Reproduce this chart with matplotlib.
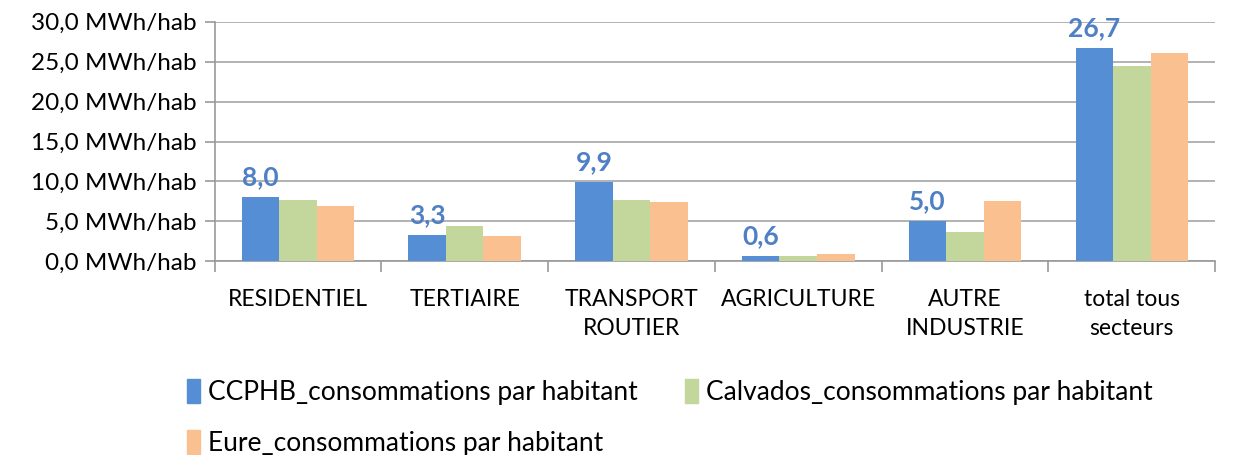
import matplotlib.pyplot as plt
import numpy as np
from matplotlib.patches import Patch

# data
categories = ["RESIDENTIEL", "TERTIAIRE", "TRANSPORT\nROUTIER", "AGRICULTURE",
              "AUTRE\nINDUSTRIE", "total tous\nsecteurs"]
ccphb = [8.0, 3.3, 9.9, 0.6, 5.0, 26.7]
calvados = [7.7, 4.4, 7.7, 0.7, 3.6, 24.5]
eure = [6.9, 3.1, 7.4, 0.85, 7.5, 26.1]
series_names = ["CCPHB_consommations par habitant",
                "Calvados_consommations par habitant",
                "Eure_consommations par habitant"]
colors = ["#558ED5", "#C3D69B", "#FAC090"]

plt.rcParams["font.family"] = ["Lato", "DejaVu Sans"]

fig = plt.figure(figsize=(12.4, 4.55), dpi=100)
ax = fig.add_axes([0.173, 0.426, 0.807, 0.526])

x = np.arange(len(categories))
w = 0.225
for i, (vals, col) in enumerate(zip([ccphb, calvados, eure], colors)):
    ax.bar(x + (i - 1) * w, vals, width=w, color=col, zorder=3)

# labels on the first series
for xi, v in zip(x, ccphb):
    ax.text(xi - w, v + 1.0, f"{v:.1f}".replace(".", ","), ha="center", va="bottom",
            color="#4F7FC4", fontsize=19, fontweight="bold")

ax.set_ylim(0, 30)
ax.set_xlim(-0.5, len(categories) - 0.5)
yt = np.arange(0, 31, 5)
ax.set_yticks(yt)
ax.set_yticklabels([f"{v:.1f} MWh/hab".replace(".", ",") for v in yt], fontsize=17.5)
ax.yaxis.grid(True, color="#A6A6A6", linewidth=1.2, zorder=0)

ax.set_xticks(np.arange(-0.5, len(categories), 1))
ax.set_xticklabels([])
ax.set_xticks(x, minor=True)
ax.set_xticklabels(categories, minor=True, fontsize=16.5, linespacing=1.5)
ax.tick_params(axis="x", which="major", length=8, color="#999999", width=1.2)
ax.tick_params(axis="x", which="minor", length=0, pad=20)
ax.tick_params(axis="y", length=7, color="#999999", width=1.2, pad=6)

for s in ["top", "right"]:
    ax.spines[s].set_visible(False)
for s in ["left", "bottom"]:
    ax.spines[s].set_color("#999999")
    ax.spines[s].set_linewidth(1.2)

# legend filled column-wise, so reorder to get row order like the original
order = [0, 2, 1]
handles = [Patch(color=colors[k]) for k in order]
labels = [series_names[k] for k in order]
fig.legend(handles, labels, loc="upper left", bbox_to_anchor=(0.142, 0.19),
           ncol=2, frameon=False, fontsize=19, handlelength=0.5, handleheight=1.0,
           handletextpad=0.3, columnspacing=1.8, labelspacing=0.95, borderaxespad=0)

fig.savefig("out.png", dpi=100)
